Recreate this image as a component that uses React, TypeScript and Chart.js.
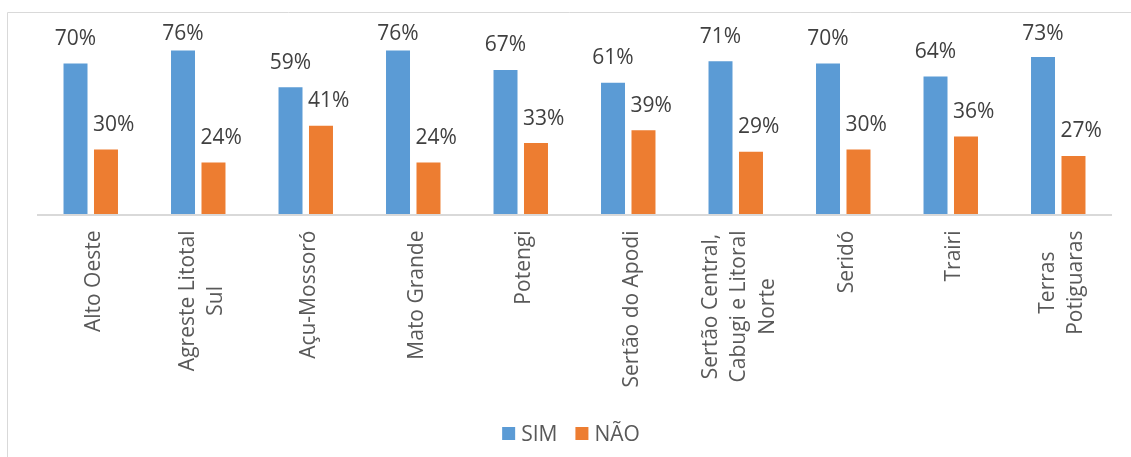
import React, { useEffect, useRef } from "react";
import { Chart, registerables } from "chart.js";

Chart.register(...registerables);

const categories: string[][] = [
  ["Alto Oeste"],
  ["Agreste Litotal", "Sul"],
  ["Açu-Mossoró"],
  ["Mato Grande"],
  ["Potengi"],
  ["Sertão do Apodi"],
  ["Sertão Central,", "Cabugi e Litoral", "Norte"],
  ["Seridó"],
  ["Trairi"],
  ["Terras", "Potiguaras"],
];
const seriesNames = ["SIM", "NÃO"];
const simValues = [70, 76, 59, 76, 67, 61, 71, 70, 64, 73];
const naoValues = [30, 24, 41, 24, 33, 39, 29, 30, 36, 27];
const seriesColors = ["#5B9BD5", "#ED7D31"];

const FONT = '21px "Open Sans"';
const LABEL_COLOR = "#404040";
const AXIS_TEXT_COLOR = "#595959";
const LINE_COLOR = "#D9D9D9";

const overlayPlugin = {
  id: "overlay",
  beforeDatasetsDraw(chart: any) {
    const ctx = chart.ctx;
    const area = chart.chartArea;
    ctx.save();
    // chart frame (top and left edges visible)
    ctx.strokeStyle = LINE_COLOR;
    ctx.lineWidth = 1;
    ctx.beginPath();
    ctx.moveTo(7.5, chart.height);
    ctx.lineTo(7.5, 12.5);
    ctx.lineTo(chart.width, 12.5);
    ctx.stroke();
    // category axis line
    ctx.lineWidth = 2;
    ctx.beginPath();
    ctx.moveTo(area.left, area.bottom + 1);
    ctx.lineTo(area.right, area.bottom + 1);
    ctx.stroke();
    ctx.restore();
  },
  afterDatasetsDraw(chart: any) {
    const ctx = chart.ctx;
    const area = chart.chartArea;
    ctx.save();
    ctx.font = FONT;

    // data labels
    ctx.fillStyle = LABEL_COLOR;
    ctx.textBaseline = "alphabetic";
    chart.data.datasets.forEach((ds: any, i: number) => {
      const meta = chart.getDatasetMeta(i);
      meta.data.forEach((bar: any, j: number) => {
        const { x, y, width } = bar.getProps(["x", "y", "width"], true);
        const by = Math.max(y - 18.5, 40);
        const text = ds.data[j] + "%";
        if (i === 0) {
          ctx.textAlign = "center";
          ctx.fillText(text, x, by);
        } else {
          ctx.textAlign = "left";
          ctx.fillText(text, x - width / 2 - 1, by);
        }
      });
    });

    // category labels (rotated, lines centered)
    ctx.fillStyle = AXIS_TEXT_COLOR;
    const xScale = chart.scales.x;
    const lineH = 28.5;
    categories.forEach((lines, j) => {
      const cx = xScale.getPixelForValue(j);
      const maxW = Math.max(...lines.map((l) => ctx.measureText(l).width));
      const cy = area.bottom + 16.5 + maxW / 2;
      const n = lines.length;
      lines.forEach((line, k) => {
        const bx = cx + 9.5 + (k - (n - 1) / 2) * lineH;
        ctx.save();
        ctx.translate(bx, cy);
        ctx.rotate(-Math.PI / 2);
        ctx.textAlign = "center";
        ctx.textBaseline = "alphabetic";
        ctx.fillText(line, 0, 0);
        ctx.restore();
      });
    });

    // legend
    const box = 13;
    const gap = 6;
    const spacing = 18;
    const widths = seriesNames.map((n) => ctx.measureText(n).width);
    const total =
      widths.reduce((a, b) => a + b, 0) + seriesNames.length * (box + gap) + spacing * (seriesNames.length - 1);
    let lx = 571 - total / 2;
    const ly = 440.5;
    ctx.textAlign = "left";
    seriesNames.forEach((name, i) => {
      ctx.fillStyle = seriesColors[i];
      ctx.fillRect(lx, ly - 13.5, box, box);
      lx += box + gap;
      ctx.fillStyle = AXIS_TEXT_COLOR;
      ctx.fillText(name, lx, ly);
      lx += widths[i] + spacing;
    });
    ctx.restore();
  },
};

export default function App() {
  const canvasRef = useRef<HTMLCanvasElement | null>(null);

  useEffect(() => {
    let chart: Chart | null = null;
    let cancelled = false;
    const make = () => {
      if (cancelled || !canvasRef.current) return;
      chart = new Chart(canvasRef.current, {
        type: "bar",
        data: {
          labels: categories.map((c) => c.join(" ")),
          datasets: [
            {
              label: seriesNames[0],
              data: simValues,
              backgroundColor: seriesColors[0],
              categoryPercentage: 0.567,
              barPercentage: 0.787,
            },
            {
              label: seriesNames[1],
              data: naoValues,
              backgroundColor: seriesColors[1],
              categoryPercentage: 0.567,
              barPercentage: 0.787,
            },
          ],
        },
        options: {
          responsive: false,
          animation: false,
          devicePixelRatio: 1,
          layout: { padding: { left: 37, right: 19, top: 42, bottom: 243 } },
          plugins: { legend: { display: false }, tooltip: { enabled: false } },
          scales: {
            x: { display: false },
            y: { display: false, min: 0, max: 80 },
          },
        },
        plugins: [overlayPlugin],
      });
    };
    const fonts: any = (document as any).fonts;
    if (fonts && fonts.load) {
      fonts.load(FONT).then(make, make);
    } else {
      make();
    }
    return () => {
      cancelled = true;
      if (chart) chart.destroy();
    };
  }, []);

  return (
    <div
      style={{
        position: "fixed",
        left: 0,
        top: 0,
        width: 1131,
        height: 457,
        background: "#ffffff",
        overflow: "hidden",
      }}
    >
      <canvas ref={canvasRef} width={1131} height={457} style={{ display: "block" }} />
    </div>
  );
}
